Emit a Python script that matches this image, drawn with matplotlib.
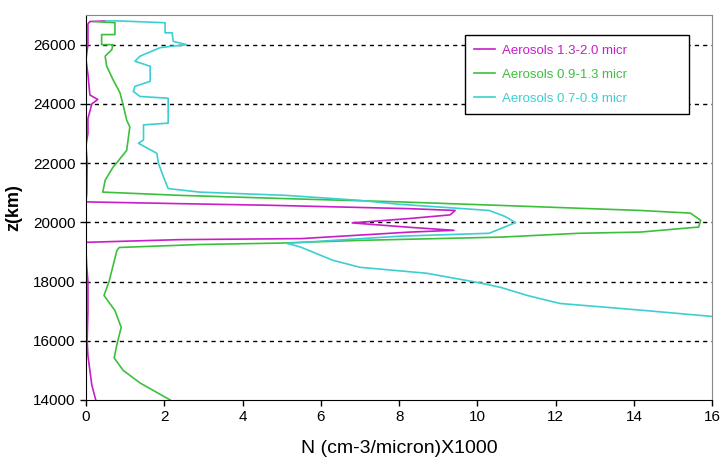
import matplotlib
matplotlib.use("Agg")
import matplotlib.pyplot as plt

# aerosol profiles: altitude (m) and N (cm-3/micron)x1000
z_mag = [14000, 14500, 15000, 15500, 16000, 17000, 18000, 18500, 19000, 19324,
         19415, 19450, 19670, 19730, 19830, 19980, 20130, 20250, 20400, 20460,
         20575, 20630, 20690, 21000, 22000, 22600, 23000, 23500, 24000, 24150,
         24300, 25000, 25500, 26000, 26700, 26780, 26800]
n_mag = [0.25, 0.15, 0.1, 0.05, 0.03, 0.05, 0.05, 0.02, 0.0, 0.0,
         2.4, 5.5, 8.28, 9.4, 8.28, 6.8, 8.28, 9.3, 9.43, 8.28,
         4.7, 2.4, 0.0, 0.02, 0.03, 0.0, 0.05, 0.05, 0.15, 0.3,
         0.1, 0.05, 0.0, 0.05, 0.05, 0.1, 0.5]

z_grn = [14000, 14575, 15000, 15420, 15930, 16450, 17020, 17530, 18000, 19050,
         19150, 19250, 19300, 19390, 19500, 19630, 19670, 19840, 20070, 20310,
         20400, 20570, 20690, 20800, 20910, 21020, 21420, 21860, 22000, 22430,
         23220, 23450, 23960, 24370, 24820, 25270, 25610, 25830, 26000, 26000,
         26340, 26340, 26740, 26780]
n_grn = [2.15, 1.38, 0.95, 0.72, 0.8, 0.9, 0.74, 0.46, 0.59, 0.79,
         0.85, 2.9, 5.0, 7.0, 10.6, 12.6, 14.16, 15.65, 15.7, 15.44,
         14.16, 10.6, 8.0, 5.1, 2.4, 0.43, 0.49, 0.69, 0.78, 1.04,
         1.12, 1.04, 0.95, 0.87, 0.69, 0.53, 0.49, 0.66, 0.69, 0.40,
         0.40, 0.74, 0.74, 0.2]

z_cyn = [16820, 17030, 17260, 17530, 17800, 17970, 18280, 18480, 18720, 19170,
         19290, 19530, 19630, 19990, 20200, 20400, 20610, 20740, 20910, 21020,
         21140, 21530, 22000, 22330, 22670, 22780, 23290, 23350, 24190, 24250,
         24420, 24590, 24760, 25270, 25440, 25610, 25900, 26000, 26110, 26400,
         26400, 26740, 26800, 26800]
n_cyn = [16.0, 14.2, 12.1, 11.27, 10.6, 10.0, 8.7, 7.0, 6.3, 5.47,
         5.13, 8.0, 10.3, 10.97, 10.7, 10.3, 8.0, 7.0, 5.1, 2.9,
         2.1, 1.98, 1.85, 1.81, 1.34, 1.47, 1.47, 2.1, 2.1, 1.38,
         1.21, 1.25, 1.64, 1.64, 1.25, 1.38, 1.9, 2.57, 2.23, 2.2,
         2.02, 2.02, 0.87, 0.5]

labels = ["Aerosols 1.3-2.0 micr", "Aerosols 0.9-1.3 micr", "Aerosols 0.7-0.9 micr"]
colors = ["#c81ec8", "#3cc03c", "#3ccfd2"]

plt.rcParams["font.family"] = ["Liberation Sans", "DejaVu Sans"]

fig = plt.figure(figsize=(7.2, 4.7), dpi=100)
ax = fig.add_axes([0.1194, 0.149, 0.8700, 0.819])

ax.plot(n_mag, z_mag, color=colors[0], lw=1.2, label=labels[0])
ax.plot(n_grn, z_grn, color=colors[1], lw=1.2, label=labels[1])
ax.plot(n_cyn, z_cyn, color=colors[2], lw=1.2, label=labels[2])

ax.set_xlim(0, 16)
ax.set_ylim(14000, 27000)
ax.set_xticks(range(0, 17, 2))
ax.set_yticks(range(14000, 27000, 2000))
for t in range(16000, 27000, 2000):
    ax.axhline(t, color="black", lw=1, ls=(0, (3, 3)), zorder=0)

ax.tick_params(direction="out", length=4, width=1, labelsize=11)

ax.spines["top"].set_color("#888888")
ax.spines["right"].set_color("#888888")

ax.set_xlabel("N (cm-3/micron)X1000", fontsize=14, labelpad=11)
ax.set_ylabel("z(km)", fontsize=13, fontweight="bold", labelpad=8)

leg = ax.legend(loc="upper left", bbox_to_anchor=(0.605, 0.727, 0.357, 0.221),
                mode="expand", fancybox=False, edgecolor="black", framealpha=1,
                handlelength=1.6, borderaxespad=0, labelspacing=0.9,
                borderpad=0.7, handletextpad=0.5, prop={"size": 9.5})
leg._legend_box.align = "right"
leg.get_frame().set_linewidth(1)
for txt, c in zip(leg.get_texts(), colors):
    txt.set_color(c)

fig.savefig("out.png", dpi=100)
